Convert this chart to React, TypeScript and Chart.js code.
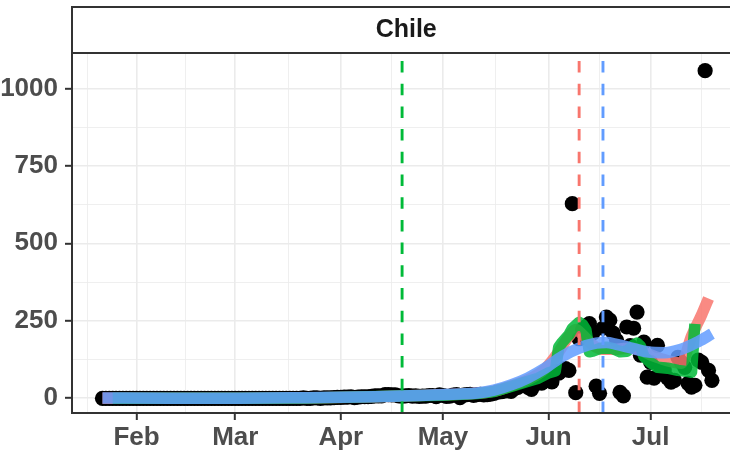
import React, { useEffect, useRef } from "react";
import { Chart, registerables } from "chart.js";

Chart.register(...registerables);

// ---------- data (x = days since 2020-01-22) ----------
const facetTitle = "Chile";

const monthLabels = ["Feb", "Mar", "Apr", "May", "Jun", "Jul"];
const monthStartDays = [10, 39, 70, 100, 131, 161];
const monthMidDays = [-4.5, 24.5, 54.5, 85, 115.5, 146, 176];

const yMajorTicks = [0, 250, 500, 750, 1000];
const yMinorTicks = [125, 375, 625, 875];

// daily deaths, one array per month
const deathsJan = [0, 0, 0, 0, 0, 0, 0, 0, 0, 0];
const deathsFeb = [
  0, 0, 0, 0, 0, 0, 0, 0, 0, 0, 0, 0, 0, 0, 0, 0, 0, 0, 0, 0, 0, 0, 0, 0, 0, 0, 0, 0, 0,
];
const deathsMar = [
  0, 0, 0, 0, 0, 0, 0, 0, 0, 0, 0, 0, 0, 0, 0, 0, 0, 0, 0, 0, 1, 0, 0, 1, 1, 0, 1, 1, 1, 2, 3,
];
const deathsApr = [
  3, 4, 4, 5, 2, 4, 5, 5, 5, 6, 8, 8, 8, 12, 12, 11, 11, 8, 7, 8, 9, 7, 8, 6, 7, 7, 9, 9, 5, 11,
];
const deathsMay = [
  9, 6, 7, 10, 12, 2, 10, 12, 13, 9, 12, 13, 11, 12, 13, 16, 20, 21, 23, 25, 22, 31, 35, 41, 45,
  35, 29, 45, 54, 49, 57,
];
const deathsJun = [
  57, 53, 87, 81, 90, 96, 90, 628, 18, 192, 222, 231, 241, 210, 39, 16, 226, 262, 252, 210, 187,
  19, 8, 230, 170, 226, 278, 139, 181, 68,
];
const deathsJul = [
  116, 65, 171, 90, 92, 65, 52, 58, 132, 116, 100, 48, 36, 42, 123, 116, 1057, 90, 58,
];

// smoothers
const redDays = [0, 40, 60, 80, 100, 110, 115, 120, 125, 130, 134, 137, 139, 141, 144, 147, 150, 155, 158, 161, 164, 167, 170, 173, 176, 178];
const redValues = [0, 0, 1, 5, 11, 16, 23, 40, 60, 95, 150, 200, 222, 205, 172, 158, 158, 162, 155, 140, 128, 118, 113, 200, 270, 322];

const greenDays = [3, 40, 60, 75, 90, 100, 110, 115, 120, 125, 128, 131, 133, 134, 135, 137, 138, 140, 141, 142, 143, 144, 146, 148, 150, 152, 154, 156, 157, 158, 159, 160, 161, 163, 166, 169, 172, 173, 174];
const greenValues = [0, 0, 1, 4, 8, 10, 15, 22, 38, 55, 65, 82, 88, 165, 180, 205, 225, 245, 238, 220, 150, 152, 160, 165, 160, 150, 152, 172, 178, 168, 135, 125, 115, 100, 97, 90, 86, 84, 240];

const blueDays = [0, 20, 40, 60, 80, 95, 105, 110, 115, 120, 125, 130, 135, 140, 145, 148, 151, 155, 160, 165, 170, 175, 179];
const blueValues = [1, 0, 0, 2, 5, 10, 14, 17, 26, 43, 66, 97, 135, 162, 178, 180, 174, 163, 150, 147, 158, 183, 208];

// vertical reference dates
const vlineDays = [88, 140, 147];
const vlineColors = ["#00BA38", "#F8766D", "#619CFF"];

// axis limits
const xLimits = [-8.95, 187.95];
const yLimits = [-47.5, 1114];

const FONT = '"Liberation Sans", Arial, Helvetica, sans-serif';

export default function App() {
  const ref = useRef<HTMLCanvasElement | null>(null);

  useEffect(() => {
    const canvas = ref.current;
    if (!canvas) return;

    const deaths = [
      ...deathsJan,
      ...deathsFeb,
      ...deathsMar,
      ...deathsApr,
      ...deathsMay,
      ...deathsJun,
      ...deathsJul,
    ];
    const points = deaths.map((v, i) => ({ x: i, y: v }));
    const toXY = (days: number[], vals: number[]) => days.map((d, i) => ({ x: d, y: vals[i] }));

    const xTicks = [...monthStartDays, ...monthMidDays].sort((a, b) => a - b);
    const yTicks = [...yMajorTicks, ...yMinorTicks].sort((a, b) => a - b);
    const isMajorX = (v: any) => monthStartDays.includes(v);
    const isMajorY = (v: any) => yMajorTicks.includes(v);

    const stripTop = 7;

    const panelPlugin = {
      id: "panelDecor",
      beforeDraw(chart: any) {
        const { ctx } = chart;
        ctx.save();
        ctx.fillStyle = "#FFFFFF";
        ctx.fillRect(0, 0, chart.width, chart.height);
        ctx.restore();
      },
      afterDatasetsDraw(chart: any) {
        const { ctx, chartArea: a } = chart;
        const xs = chart.scales.x;
        ctx.save();
        ctx.beginPath();
        ctx.rect(a.left, a.top, a.right - a.left, a.bottom - a.top);
        ctx.clip();
        ctx.lineWidth = 2.9;
        ctx.setLineDash([11.5, 11.2]);
        ctx.lineCap = "butt";
        vlineDays.forEach((d, i) => {
          const px = xs.getPixelForValue(d);
          ctx.strokeStyle = vlineColors[i];
          ctx.beginPath();
          ctx.moveTo(px, a.bottom);
          ctx.lineTo(px, a.top);
          ctx.stroke();
        });
        ctx.restore();
      },
      afterDraw(chart: any) {
        const { ctx, chartArea: a } = chart;
        ctx.save();
        // strip
        ctx.fillStyle = "#FFFFFF";
        ctx.fillRect(a.left, stripTop, a.right - a.left, a.top - stripTop);
        ctx.strokeStyle = "#333333";
        ctx.lineWidth = 2;
        ctx.strokeRect(a.left, stripTop, a.right - a.left, a.top - stripTop);
        ctx.strokeRect(a.left, a.top, a.right - a.left, a.bottom - a.top);
        ctx.fillStyle = "#1A1A1A";
        ctx.font = `bold 25px ${FONT}`;
        ctx.textAlign = "center";
        ctx.textBaseline = "middle";
        ctx.fillText(facetTitle, (a.left + a.right) / 2 - 1, (stripTop + a.top) / 2 + 0.5);
        ctx.restore();
      },
    };

    const lineCommon = {
      showLine: true,
      pointRadius: 0,
      pointHoverRadius: 0,
      borderWidth: 11.5,
      borderCapStyle: "butt",
      borderJoinStyle: "round",
      fill: false,
    };

    const chart = new Chart(canvas, {
      type: "scatter",
      data: {
        datasets: [
          {
            label: "deaths",
            data: points,
            order: 4,
            pointRadius: 7.6,
            pointHoverRadius: 7.6,
            pointBackgroundColor: "#000000",
            pointBorderWidth: 0,
            showLine: false,
          },
          {
            ...lineCommon,
            label: "red",
            data: toXY(redDays, redValues),
            order: 3,
            borderColor: "rgba(248,118,109,0.85)",
            cubicInterpolationMode: "monotone",
          },
          {
            ...lineCommon,
            label: "green",
            data: toXY(greenDays, greenValues),
            order: 2,
            borderColor: "rgba(0,186,56,0.85)",
            tension: 0,
          },
          {
            ...lineCommon,
            label: "blue",
            data: toXY(blueDays, blueValues),
            order: 1,
            borderColor: "rgba(97,156,255,0.85)",
            cubicInterpolationMode: "monotone",
          },
        ],
      } as any,
      options: {
        responsive: false,
        maintainAspectRatio: false,
        animation: false,
        devicePixelRatio: 1,
        events: [],
        layout: { padding: { top: 53, left: 0, right: 0, bottom: 0 } },
        plugins: { legend: { display: false }, tooltip: { enabled: false } },
        scales: {
          x: {
            type: "linear",
            min: xLimits[0],
            max: xLimits[1],
            afterBuildTicks: (axis: any) => {
              axis.ticks = xTicks.map((v) => ({ value: v }));
            },
            afterFit: (axis: any) => {
              axis.height = 40;
            },
            border: { display: false },
            grid: {
              color: "#EBEBEB",
              lineWidth: (c: any) => (isMajorX(c.tick && c.tick.value) ? 1.6 : 0.8),
              drawTicks: true,
              tickLength: 7,
              tickWidth: 2,
              tickColor: (c: any) => (isMajorX(c.tick && c.tick.value) ? "#333333" : "rgba(0,0,0,0)"),
            },
            ticks: {
              autoSkip: false,
              maxRotation: 0,
              minRotation: 0,
              padding: 2,
              color: "#4D4D4D",
              font: { family: FONT, size: 26, weight: "bold" },
              callback: (v: any) => {
                const i = monthStartDays.indexOf(v);
                return i >= 0 ? monthLabels[i] : "";
              },
            },
          },
          y: {
            type: "linear",
            min: yLimits[0],
            max: yLimits[1],
            afterBuildTicks: (axis: any) => {
              axis.ticks = yTicks.map((v) => ({ value: v }));
            },
            afterFit: (axis: any) => {
              axis.width = 72;
            },
            border: { display: false },
            grid: {
              color: "#EBEBEB",
              lineWidth: (c: any) => (isMajorY(c.tick && c.tick.value) ? 1.6 : 0.8),
              drawTicks: true,
              tickLength: 7,
              tickWidth: 2,
              tickColor: (c: any) => (isMajorY(c.tick && c.tick.value) ? "#333333" : "rgba(0,0,0,0)"),
            },
            ticks: {
              autoSkip: false,
              padding: 7,
              color: "#4D4D4D",
              font: { family: FONT, size: 26, weight: "bold" },
              callback: (v: any) => (isMajorY(v) ? String(v) : ""),
            },
          },
        },
      } as any,
      plugins: [panelPlugin],
    });

    return () => chart.destroy();
  }, []);

  return (
    <div
      style={{
        position: "absolute",
        left: 0,
        top: 0,
        width: 730,
        height: 453,
        overflow: "hidden",
        background: "#FFFFFF",
      }}
    >
      <canvas ref={ref} width={750} height={453} style={{ display: "block" }} />
    </div>
  );
}
